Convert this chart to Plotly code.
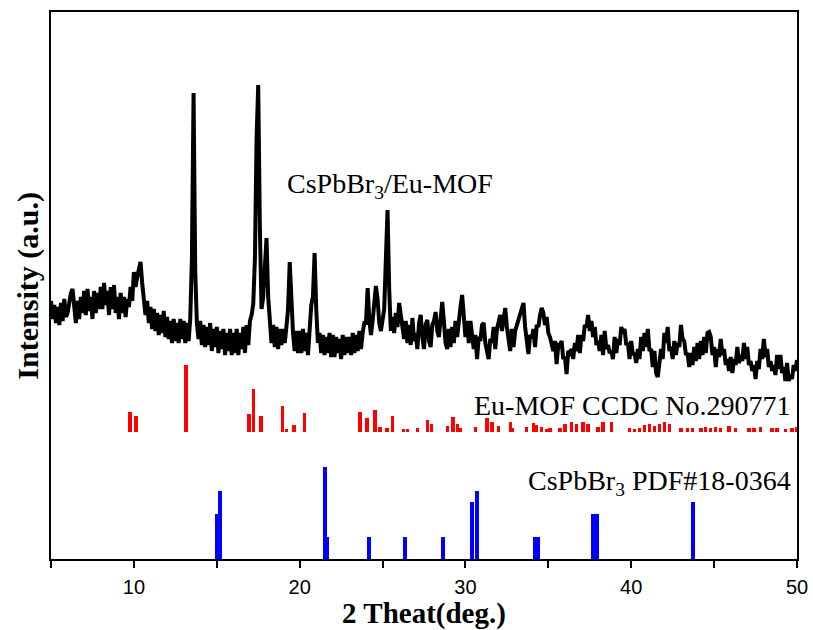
import numpy as np
import plotly.graph_objects as go

# measured XRD pattern of CsPbBr3/Eu-MOF, 2theta from 5 to 50 deg in 0.1 deg steps
intensity = [
    258,240,254,236,252,234,256,238,260,242,
    246,258,266,270,250,236,258,240,262,246,
    268,244,270,248,262,240,268,246,266,250,
    272,250,276,254,268,244,272,250,274,246,
    262,240,266,246,262,242,260,252,272,258,
    287,272,282,290,297,276,256,244,258,236,
    252,230,250,228,246,224,244,226,248,222,
    242,220,238,216,240,218,236,216,240,220,
    238,216,236,218,240,300,466,288,236,220,
    238,214,234,212,232,214,236,208,230,212,
    232,206,228,210,230,204,226,208,230,204,
    226,206,230,204,226,210,232,206,234,214,
    238,244,255,300,420,474,330,250,262,290,
    321,262,236,216,234,212,232,210,230,214,
    230,216,232,250,297,250,226,208,228,206,
    228,206,230,208,226,204,236,254,262,306,
    250,216,226,206,224,204,222,206,226,202,
    224,202,222,206,220,200,224,204,222,206,
    222,204,226,206,224,208,228,210,226,236,
    236,271,240,224,238,255,273,260,236,228,
    240,250,300,349,270,228,242,226,246,232,
    256,246,232,220,238,216,234,214,241,218,
    226,210,236,244,222,210,234,239,218,212,
    234,238,247,228,222,240,257,238,216,210,
    230,212,232,216,238,222,242,252,264,240,
    222,238,216,238,226,210,224,200,222,218,
    234,236,216,206,200,220,216,232,210,230,
    236,244,228,240,251,232,218,208,230,212,
    228,234,238,246,250,256,232,216,205,224,
    220,230,212,234,232,244,251,246,234,242,
    226,222,213,208,218,195,214,213,218,200,
    202,185,208,206,210,200,216,208,224,206,
    224,218,234,232,244,228,238,222,232,214,
    218,208,224,204,228,210,214,206,208,200,
    222,206,220,214,232,226,230,214,216,200,
    218,204,206,196,210,200,222,208,226,212,
    230,208,210,192,208,186,182,194,210,200,
    226,216,232,208,212,200,218,204,216,212,
    234,220,218,204,206,192,206,194,212,198,
    216,200,218,204,222,206,226,227,222,204,
    212,192,210,202,220,204,210,194,200,188,
    202,186,200,194,212,196,204,198,216,200,
    212,194,198,188,194,180,198,190,210,200,
    220,202,210,192,198,188,194,184,204,190,
    204,186,192,178,196,178,184,180,194,188,
    199,
]
two_theta = np.round(np.linspace(5.0, 50.0, len(intensity)), 2)

# Eu-MOF simulated reference (CCDC No.290771)
eu_pos = [9.77, 10.13, 13.15, 16.95, 17.2, 17.67, 18.95, 19.2, 19.66, 20.3,
          23.64, 24.06, 24.55, 24.85, 25.27, 25.6, 26.25, 26.5, 27.1, 27.7,
          27.97, 28.9, 29.25, 29.5, 29.7, 30.6, 31.3, 31.6, 32.0, 32.7,
          32.85, 33.7, 34.1, 34.3, 34.6, 34.9, 35.1, 35.7, 36.0, 36.4,
          36.7, 37.1, 37.4, 38.0, 38.3, 38.8, 39.9, 40.2, 40.5, 40.8,
          41.1, 41.4, 41.7, 42.0, 42.3, 43.0, 43.4, 43.7, 44.2, 44.5,
          44.8, 45.1, 45.4, 45.9, 46.3, 47.1, 47.4, 47.8, 48.5, 48.8,
          49.3, 49.7, 50.0]
eu_h = [20, 16, 67, 18, 43, 16, 26, 3, 7, 19,
        20, 14, 22, 5, 4, 16, 3, 3, 4, 12,
        8, 6, 15, 8, 4, 5, 14, 10, 6, 10,
        4, 5, 9, 7, 5, 3, 4, 4, 8, 10,
        8, 10, 8, 5, 10, 10, 4, 3, 4, 7,
        8, 6, 8, 10, 8, 4, 4, 4, 4, 5,
        4, 5, 4, 6, 4, 4, 4, 5, 4, 4,
        3, 4, 5]
eu_offset = 127

# CsPbBr3 standard (PDF#18-0364)
pdf_pos = [15.0, 15.2, 21.5, 21.66, 24.2, 26.35, 28.65, 30.4, 30.7, 34.2, 34.35, 37.7, 37.95, 43.7]
pdf_h = [45, 68, 92, 22, 22, 22, 22, 57, 68, 22, 22, 45, 45, 57]

x_ticks = [10, 20, 30, 40, 50]

serif = "Liberation Serif, Times New Roman, serif"
sans = "Liberation Sans, Arial, sans-serif"

fig = go.Figure()
fig.add_trace(go.Bar(x=pdf_pos, y=pdf_h, base=0, width=0.24,
                     marker=dict(color="#0000ff", line=dict(width=0)), showlegend=False))
fig.add_trace(go.Bar(x=eu_pos, y=eu_h, base=eu_offset, width=0.2,
                     marker=dict(color="#ff0000", line=dict(width=0)), showlegend=False))
fig.add_trace(go.Scatter(x=two_theta, y=intensity, mode="lines",
                         line=dict(color="black", width=4), showlegend=False))

fig.update_layout(
    width=813, height=630,
    margin=dict(l=51, r=16, t=12, b=71, autoexpand=False),
    paper_bgcolor="white", plot_bgcolor="white",
    barmode="overlay", bargap=0,
    xaxis=dict(range=[5, 50], tickvals=x_ticks, ticks="outside", ticklen=7, tickwidth=2,
               tickcolor="black", showline=True, linecolor="black", linewidth=2, mirror=True,
               showgrid=False, zeroline=False, automargin=False, ticklabelstandoff=2,
               minor=dict(dtick=5, tick0=5, ticks="outside", ticklen=7, tickwidth=2, tickcolor="black"),
               tickfont=dict(family=sans, size=20, color="black"),
               title=dict(text="<b>2 Theat(deg.)</b>", font=dict(family=serif, size=29, color="black"),
                          standoff=2)),
    yaxis=dict(range=[0, 547], showticklabels=False, ticks="", showline=True, linecolor="black",
               linewidth=2, mirror=True, showgrid=False, zeroline=False, automargin=False),
    annotations=[
        dict(text="<b>Intensity (a.u.)</b>", textangle=-90, xref="paper", yref="paper",
             x=-0.032, y=0.5, xanchor="center", yanchor="middle", showarrow=False,
             font=dict(family=serif, size=30, color="black")),
        dict(text="CsPbBr<sub>3</sub>/Eu-MOF", xref="paper", yref="paper", x=0.3137, y=0.682,
             xanchor="left", yanchor="middle", showarrow=False,
             font=dict(family=serif, size=28, color="black")),
        dict(text="Eu-MOF CCDC No.290771", xref="paper", yref="paper", x=0.9946, y=0.2815,
             xanchor="right", yanchor="middle", showarrow=False,
             font=dict(family=serif, size=28, color="black")),
        dict(text="CsPbBr<sub>3</sub> PDF#18-0364", xref="paper", yref="paper", x=0.9946, y=0.139,
             xanchor="right", yanchor="middle", showarrow=False,
             font=dict(family=serif, size=28, color="black")),
    ],
)

fig.write_html("out.html", config={"displayModeBar": False},
               post_script="document.body.style.margin='0';document.body.style.overflow='hidden';")
